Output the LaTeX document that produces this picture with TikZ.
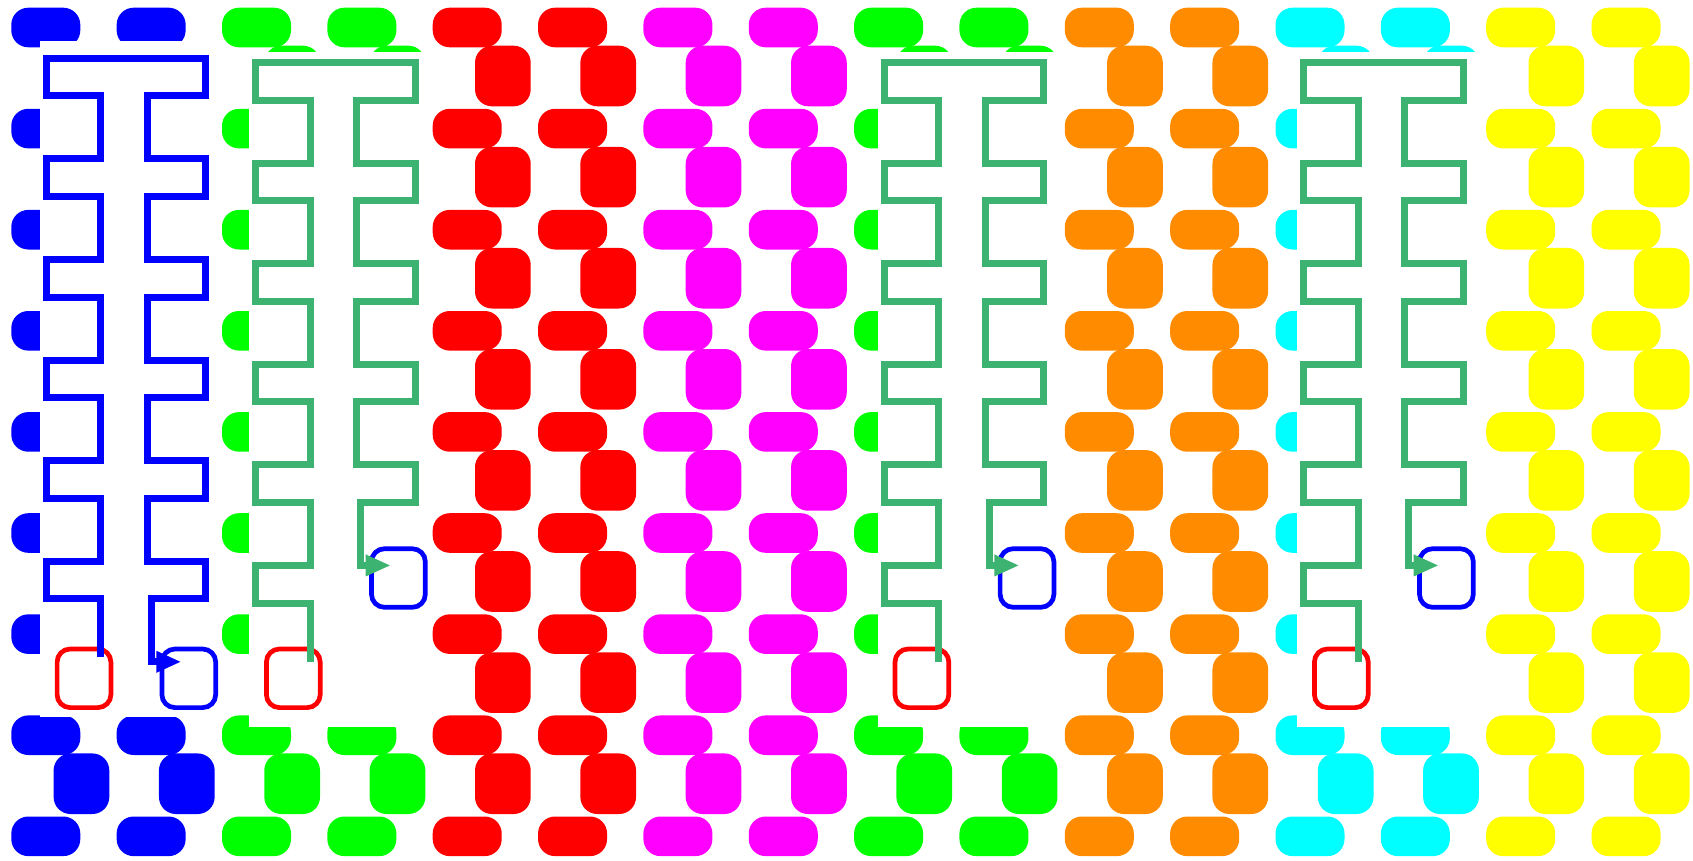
\documentclass[tikz,border=0pt]{standalone}
\usetikzlibrary{arrows.meta}
\definecolor{tB}{RGB}{0,0,255}
\definecolor{tG}{RGB}{0,255,0}
\definecolor{tR}{RGB}{255,0,0}
\definecolor{tM}{RGB}{255,0,255}
\definecolor{tO}{RGB}{255,140,0}
\definecolor{tC}{RGB}{0,255,255}
\definecolor{tY}{RGB}{255,255,0}
\definecolor{pG}{RGB}{60,179,113}
\tikzset{
  tile/.style={rounded corners=17pt},
  mask/.style={fill=white},
  boxstyle/.style={draw, line width=4.7pt, rounded corners=13pt, minimum width=53.8pt, minimum height=58.6pt, inner sep=0pt, fill=white},
  startbox/.style={boxstyle, draw=tR},
  endbox/.style={boxstyle, draw=tB},
  wire/.style={line width=7pt, -{Triangle[length=25pt,width=20pt]}},
}
% #1 G (left x), #2 top y, #3 a0, #4 left end y, #5 list of right loops, #6 last level, #7 colour, #8 name
\newcommand\serpent[8]{%
  \coordinate (#8s) at ({#1+54.3},#4);
  \coordinate (#8e) at ({#1+135},{#3+63+100.6*#6});
  \draw[wire, draw=#7] (#8s)
    \foreach \k in {5,4,3,2,1}{
      -- ({#1+54.3},{#3+100.6*\k}) -- (#1,{#3+100.6*\k})
      -- (#1,{#3+63+100.6*(\k-1)}) -- ({#1+54.3},{#3+63+100.6*(\k-1)})
    }
    -- ({#1+54.3},#3) -- (#1,#3) -- (#1,#2) -- ({#1+159.3},#2)
    \foreach \k in {#5}{
      -- ({#1+159.3},{#3+100.6*\k}) -- ({#1+101},{#3+100.6*\k})
      -- ({#1+101},{#3+63+100.6*\k}) -- ({#1+159.3},{#3+63+100.6*\k})
    }
    -- ({#1+159.3},{#3+100.6*#6}) -- ({#1+105},{#3+100.6*#6})
    -- ({#1+105},{#3+63+100.6*#6}) -- (#8e);
}
\begin{document}
\begin{tikzpicture}[x=1pt,y=-1pt]
\useasboundingbox (0,0) rectangle (1693,860);
\fill[white] (0,0) rectangle (1693,860);
% tiles
\foreach \g/\col in {0/tB,1/tG,2/tR,3/tM,4/tG,5/tO,6/tC,7/tY}{
  \foreach \s in {0,1}{
    \pgfmathsetmacro\P{11.3+105.35*(2*\g+\s)}
    \foreach \r in {0,...,8}{
      \fill[tile, fill=\col] (\P,{7.7+101.1*\r}) rectangle ++(69,39.6);
    }
    \foreach \r in {0,...,7}{
      \fill[tile, fill=\col] ({\P+42.3},{45.7+101.1*\r}) rectangle ++(55.7,60.6);
    }
  }
}
% white panels
\fill[mask] (39.6,41) rectangle (221.6,717);
\foreach \G in {255.7,884.3,1303.7}{
  \fill[mask] ({\G-6.7},51.7) rectangle ({\G+175.3},727.3);
}
% boxes
\node[startbox] (r0) at (84,678.3) {};
\node[endbox] (b0) at (188.8,678.3) {};
\node[startbox] (r1) at ({255.7+37.6},678.3) {};
\node[endbox] (b1) at ({255.7+142.7},578) {};
\node[startbox] (r4) at ({884.3+37.6},678.3) {};
\node[endbox] (b4) at ({884.3+142.7},578) {};
\node[startbox] (r6) at ({1303.7+37.6},678.3) {};
\node[endbox] (b6) at ({1303.7+142.7},578) {};
% serpentine connectors
\serpent{46.3}{58}{95.8}{656.7}{0,...,4}{5}{tB}{p0}
\serpent{255.7}{62.3}{100}{661.7}{0,...,3}{4}{pG}{p1}
\serpent{884.3}{62.3}{100}{661.7}{0,...,3}{4}{pG}{p4}
\serpent{1303.7}{62.3}{100}{661.7}{0,...,3}{4}{pG}{p6}
\end{tikzpicture}
\end{document}
